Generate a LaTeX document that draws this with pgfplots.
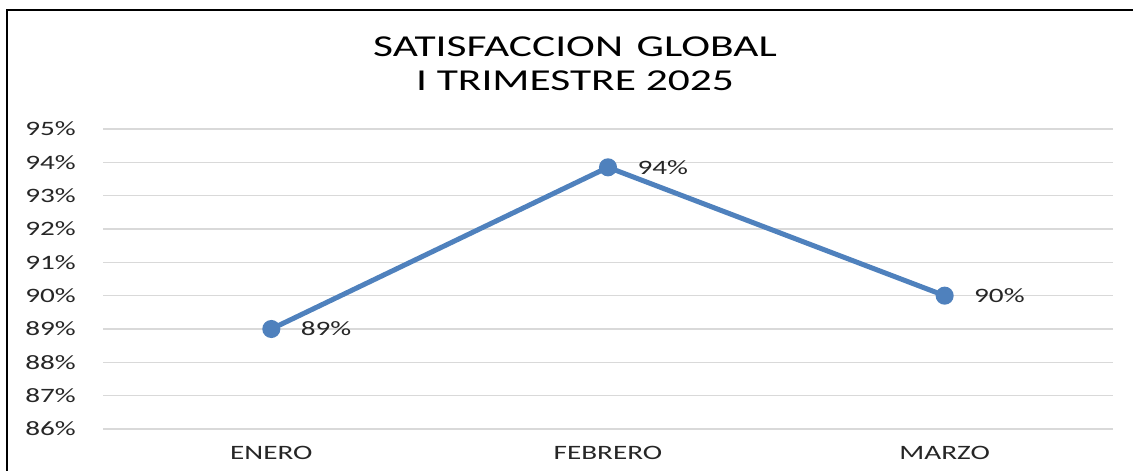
\documentclass[border=0pt]{standalone}
\usepackage{fontspec}
\setmainfont{Carlito}[FakeStretch=1.43]
\usepackage{pgfplots}
\pgfplotsset{compat=1.18}
\definecolor{lineblue}{HTML}{4F81BD}
\definecolor{gridgray}{HTML}{D9D9D9}
\definecolor{txt}{HTML}{262626}
\begin{document}
\begin{tikzpicture}[x=1bp,y=1bp]
\path[use as bounding box] (0,0) rectangle (1133,471);
\draw[line width=2bp] (7,0) -- (7,461) -- (1133,461);
\node[font=\fontsize{30.5}{34}\selectfont, align=center, anchor=center, text=black] at (575,407) {SATISFACCION\hspace{0.45em}GLOBAL\\I TRIMESTRE 2025};
\begin{axis}[at={(103bp,42bp)}, anchor=south west, scale only axis,
  width=1010bp, height=300bp,
  xmin=-0.5, xmax=2.5, ymin=86, ymax=95,
  ytick={86,87,...,95}, xtick={0,1,2}, xticklabels={ENERO,FEBRERO,MARZO},
  ymajorgrids, grid style={gridgray, line width=1.5bp},
  axis line style={draw=none}, major tick length=0pt,
  tick label style={font=\fontsize{20.5}{24}\selectfont, text=txt},
  yticklabel={\pgfmathprintnumber{\tick}\%},
  yticklabel style={anchor=east, inner sep=0pt, xshift=-27bp},
  xticklabel style={anchor=north, inner sep=0pt, yshift=-17bp},
  /pgf/number format/assume math mode=true, clip=false]
\addplot[lineblue, line width=5bp, mark=*, mark size=6.5bp, mark options={solid},
  point meta=y,
  nodes near coords={\pgfmathprintnumber[fixed,precision=0]{\pgfplotspointmeta}\%},
  nodes near coords style={anchor=west, inner sep=0pt, xshift=27bp, yshift=0bp, font=\fontsize{20.5}{24}\selectfont, text=txt}]
  coordinates {(0,89) (1,93.85) (2,90)};
\end{axis}
\end{tikzpicture}
\end{document}
